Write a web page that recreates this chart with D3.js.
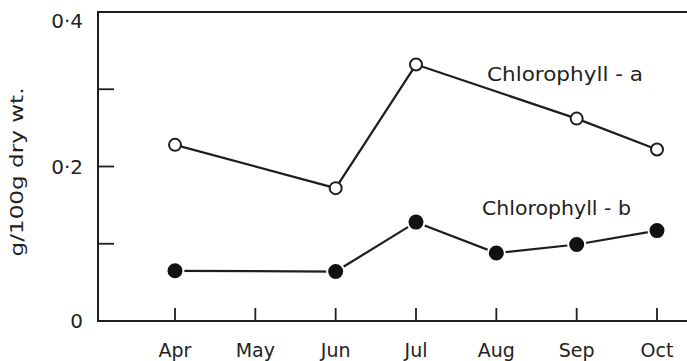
<!DOCTYPE html>
<html><head><meta charset="utf-8">
<script src="https://cdn.jsdelivr.net/npm/d3@7/dist/d3.min.js"></script>
<style>body{margin:0;background:#fff}svg{display:block}text{font-family:"DejaVu Sans",sans-serif;fill:#222}</style>
</head><body><svg id="c" width="687" height="361"></svg>
<script>
const months = ["Apr","May","Jun","Jul","Aug","Sep","Oct"];
const chlA = [0.228, null, 0.172, 0.332, null, 0.262, 0.222];
const chlB = [0.065, null, 0.064, 0.128, 0.088, 0.099, 0.117];
const yTicks = [0, 0.1, 0.2, 0.3, 0.4];
const yTickLabels = {0:"0", 0.2:"0·2", 0.4:"0·4"};
const seriesNames = ["Chlorophyll - a", "Chlorophyll - b"];

(function () {
const svg = d3.select("#c");
const pLeft = 98, pTop = 12, pBottom = 321, pRight = 687;
const x = d3.scalePoint().domain(months).range([175, 657]);
const y = d3.scaleLinear().domain([0, 0.4]).range([pBottom, pTop]);
const ink = "#1e1e1e";

// frame
svg.append("line").attr("x1", pLeft).attr("x2", pRight).attr("y1", pTop).attr("y2", pTop).attr("stroke", ink).attr("stroke-width", 2);
svg.append("line").attr("x1", pLeft).attr("x2", pRight).attr("y1", pBottom).attr("y2", pBottom).attr("stroke", ink).attr("stroke-width", 2);
svg.append("line").attr("x1", pLeft).attr("x2", pLeft).attr("y1", pTop - 1).attr("y2", pBottom + 1).attr("stroke", ink).attr("stroke-width", 2);

// y ticks
svg.selectAll(".yt").data(yTicks.filter(d => d > 0 && d < 0.4)).join("line")
  .attr("x1", pLeft).attr("x2", pLeft + 16).attr("y1", d => y(d)).attr("y2", d => y(d))
  .attr("stroke", ink).attr("stroke-width", 1.8);
svg.selectAll(".yl").data(yTicks.filter(d => yTickLabels[d] !== undefined)).join("text")
  .attr("x", 83).attr("y", d => Math.max(y(d) + 7, 28)).attr("text-anchor", "end")
  .attr("font-size", 20).text(d => yTickLabels[d]);

// x ticks
svg.selectAll(".xt").data(months).join("line")
  .attr("x1", d => x(d)).attr("x2", d => x(d)).attr("y1", pBottom).attr("y2", pBottom - 13)
  .attr("stroke", ink).attr("stroke-width", 1.8);
svg.selectAll(".xl").data(months).join("text")
  .attr("x", d => x(d)).attr("y", 357).attr("text-anchor", "middle")
  .attr("font-size", 19).text(d => d);

// y axis title
svg.append("text").attr("transform", "translate(23,172) rotate(-90)")
  .attr("text-anchor", "middle").attr("font-size", 18)
  .attr("textLength", 169).attr("lengthAdjust", "spacingAndGlyphs")
  .text("g/100g dry wt.");

const line = d3.line().x(d => x(d.m)).y(d => y(d.v));
const ptsA = months.map((m, i) => ({m, v: chlA[i]})).filter(d => d.v !== null);
const ptsB = months.map((m, i) => ({m, v: chlB[i]})).filter(d => d.v !== null);

svg.append("path").attr("d", line(ptsA)).attr("fill", "none").attr("stroke", ink).attr("stroke-width", 2.2);
svg.append("path").attr("d", line(ptsB)).attr("fill", "none").attr("stroke", ink).attr("stroke-width", 2.2);

svg.selectAll(".pa").data(ptsA).join("circle")
  .attr("cx", d => x(d.m)).attr("cy", d => y(d.v)).attr("r", 6)
  .attr("fill", "#fff").attr("stroke", ink).attr("stroke-width", 2);
svg.selectAll(".pb").data(ptsB).join("circle")
  .attr("cx", d => x(d.m)).attr("cy", d => y(d.v)).attr("r", 8.5)
  .attr("fill", "#111").attr("stroke", "#fff").attr("stroke-width", 2);

// series labels
svg.append("text").attr("x", 487).attr("y", 81).attr("font-size", 19)
  .attr("textLength", 156).attr("lengthAdjust", "spacingAndGlyphs").text(seriesNames[0]);
svg.append("text").attr("x", 482).attr("y", 215).attr("font-size", 19)
  .attr("textLength", 149).attr("lengthAdjust", "spacingAndGlyphs").text(seriesNames[1]);
})();
</script></body></html>
